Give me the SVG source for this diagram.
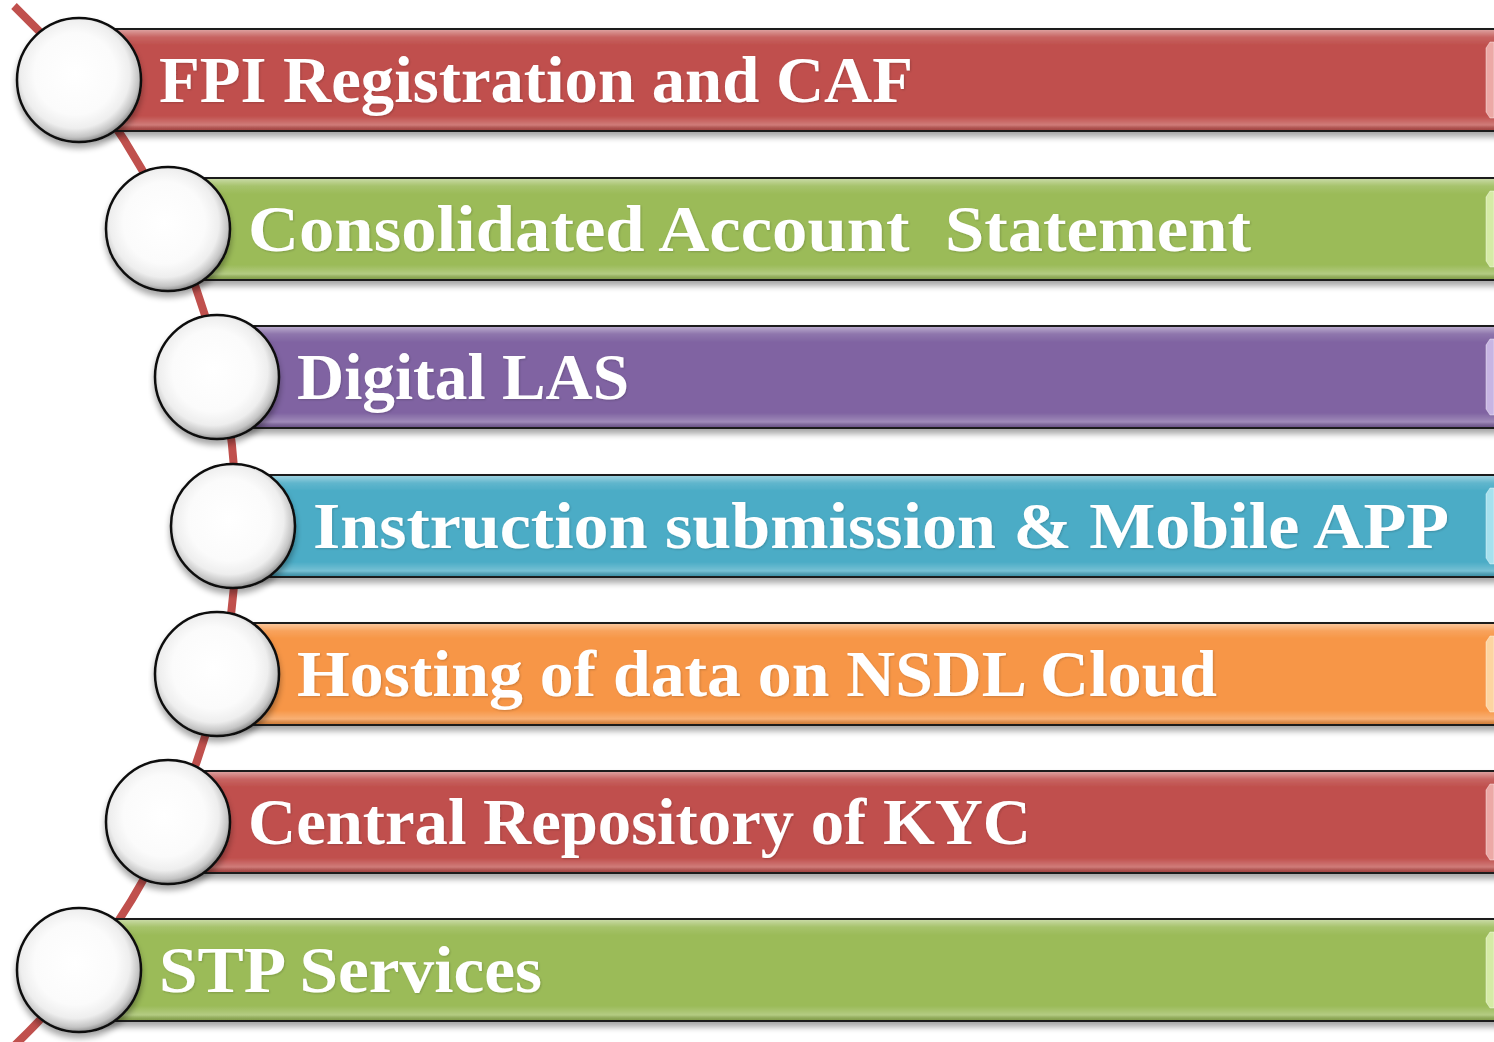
<svg xmlns="http://www.w3.org/2000/svg" width="1494" height="1042" viewBox="0 0 1494 1042">
  <defs>
    <style>
      .bar-edge { stroke: #1a1a1a; stroke-width: 2; }
      .label { font-family: "Liberation Serif", "DejaVu Serif", serif; font-weight: bold; font-size: 66px; fill: #ffffff; }
      .ball { fill: url(#ballFill); stroke: #111111; stroke-width: 2.5; }
      .spine { fill: none; stroke: #c0504d; stroke-width: 8; stroke-linecap: butt; }
      .cap { fill-opacity: 0.7; stroke: #ffffff; stroke-opacity: 0.4; stroke-width: 1; }
    </style>
    <!-- glossy sheen laid over every bar -->
    <linearGradient id="sheen" x1="0" y1="0" x2="0" y2="1">
      <stop offset="0" stop-color="#ffffff" stop-opacity="0.45"/>
      <stop offset="0.07" stop-color="#ffffff" stop-opacity="0.12"/>
      <stop offset="0.15" stop-color="#ffffff" stop-opacity="0"/>
      <stop offset="0.86" stop-color="#ffffff" stop-opacity="0"/>
      <stop offset="0.95" stop-color="#ffffff" stop-opacity="0.25"/>
      <stop offset="1" stop-color="#000000" stop-opacity="0.15"/>
    </linearGradient>
    <radialGradient id="ballFill" cx="0.47" cy="0.45" r="0.55">
      <stop offset="0" stop-color="#ffffff"/>
      <stop offset="0.6" stop-color="#fbfbfb"/>
      <stop offset="0.8" stop-color="#eeeeee"/>
      <stop offset="0.93" stop-color="#c4c4c4"/>
      <stop offset="1" stop-color="#8f8f8f"/>
    </radialGradient>
    <filter id="drop" x="-5%" y="-20%" width="110%" height="150%">
      <feGaussianBlur in="SourceAlpha" stdDeviation="3"/>
      <feOffset dy="5" result="b"/>
      <feComponentTransfer><feFuncA type="linear" slope="0.35"/></feComponentTransfer>
      <feMerge><feMergeNode/><feMergeNode in="SourceGraphic"/></feMerge>
    </filter>
    <filter id="textGlow" x="-5%" y="-20%" width="110%" height="150%">
      <feGaussianBlur in="SourceAlpha" stdDeviation="1"/>
      <feOffset dx="1" dy="1"/>
      <feComponentTransfer><feFuncA type="linear" slope="0.18"/></feComponentTransfer>
      <feMerge><feMergeNode/><feMergeNode in="SourceGraphic"/></feMerge>
    </filter>
  </defs>

  <rect width="1494" height="1042" fill="#ffffff"/>

  <!-- curved spine behind the circles -->
  <g id="connectors">
    <path class="spine" d="M 14 6 A 719 719 0 0 1 14 1046"/>
  </g>

  <g id="node-fpi">
    <g filter="url(#drop)">
      <rect x="78" y="29" width="1430" height="102" fill="#c0504d" class="bar-edge"/>
      <rect x="78" y="30" width="1430" height="100" fill="url(#sheen)"/>
    </g>
    <path class="cap" fill="#ffd0cc" d="M1494 42 H1490 L1486 48 V112 L1490 118 H1494 Z"/>
    <circle class="ball" cx="79" cy="80" r="62" filter="url(#drop)"/>
    <text class="label" x="159" y="102" textLength="754" lengthAdjust="spacingAndGlyphs" filter="url(#textGlow)">FPI Registration and CAF</text>
  </g>

  <g id="node-cas">
    <g filter="url(#drop)">
      <rect x="168" y="178" width="1340" height="102" fill="#9bbb59" class="bar-edge"/>
      <rect x="168" y="179" width="1340" height="100" fill="url(#sheen)"/>
    </g>
    <path class="cap" fill="#f0ffc8" d="M1494 191 H1490 L1486 197 V261 L1490 267 H1494 Z"/>
    <circle class="ball" cx="168" cy="229" r="62" filter="url(#drop)"/>
    <text class="label" x="248" y="251" textLength="1003" lengthAdjust="spacingAndGlyphs" xml:space="preserve" filter="url(#textGlow)">Consolidated Account  Statement</text>
  </g>

  <g id="node-las">
    <g filter="url(#drop)">
      <rect x="217" y="326" width="1290" height="102" fill="#8064a2" class="bar-edge"/>
      <rect x="217" y="327" width="1290" height="100" fill="url(#sheen)"/>
    </g>
    <path class="cap" fill="#e6d8ff" d="M1494 339 H1490 L1486 345 V409 L1490 415 H1494 Z"/>
    <circle class="ball" cx="217" cy="377" r="62" filter="url(#drop)"/>
    <text class="label" x="297" y="399" textLength="332" lengthAdjust="spacingAndGlyphs" filter="url(#textGlow)">Digital LAS</text>
  </g>

  <g id="node-app">
    <g filter="url(#drop)">
      <rect x="233" y="475" width="1270" height="102" fill="#4bacc6" class="bar-edge"/>
      <rect x="233" y="476" width="1270" height="100" fill="url(#sheen)"/>
    </g>
    <path class="cap" fill="#cff8ff" d="M1494 488 H1490 L1486 494 V558 L1490 564 H1494 Z"/>
    <circle class="ball" cx="233" cy="526" r="62" filter="url(#drop)"/>
    <text class="label" x="313" y="548" textLength="1136" lengthAdjust="spacingAndGlyphs" filter="url(#textGlow)">Instruction submission &amp; Mobile APP</text>
  </g>

  <g id="node-cloud">
    <g filter="url(#drop)">
      <rect x="217" y="623" width="1290" height="102" fill="#f79646" class="bar-edge"/>
      <rect x="217" y="624" width="1290" height="100" fill="url(#sheen)"/>
    </g>
    <path class="cap" fill="#fff0c8" d="M1494 636 H1490 L1486 642 V706 L1490 712 H1494 Z"/>
    <circle class="ball" cx="217" cy="674" r="62" filter="url(#drop)"/>
    <text class="label" x="297" y="696" textLength="920" lengthAdjust="spacingAndGlyphs" filter="url(#textGlow)">Hosting of data on NSDL Cloud</text>
  </g>

  <g id="node-kyc">
    <g filter="url(#drop)">
      <rect x="168" y="771" width="1340" height="102" fill="#c0504d" class="bar-edge"/>
      <rect x="168" y="772" width="1340" height="100" fill="url(#sheen)"/>
    </g>
    <path class="cap" fill="#ffd0cc" d="M1494 784 H1490 L1486 790 V854 L1490 860 H1494 Z"/>
    <circle class="ball" cx="168" cy="822" r="62" filter="url(#drop)"/>
    <text class="label" x="248" y="844" textLength="783" lengthAdjust="spacingAndGlyphs" filter="url(#textGlow)">Central Repository of KYC</text>
  </g>

  <g id="node-stp">
    <g filter="url(#drop)">
      <rect x="78" y="919" width="1430" height="102" fill="#9bbb59" class="bar-edge"/>
      <rect x="78" y="920" width="1430" height="100" fill="url(#sheen)"/>
    </g>
    <path class="cap" fill="#f0ffc8" d="M1494 932 H1490 L1486 938 V1002 L1490 1008 H1494 Z"/>
    <circle class="ball" cx="79" cy="970" r="62" filter="url(#drop)"/>
    <text class="label" x="159" y="992" textLength="383" lengthAdjust="spacingAndGlyphs" filter="url(#textGlow)">STP Services</text>
  </g>
</svg>
